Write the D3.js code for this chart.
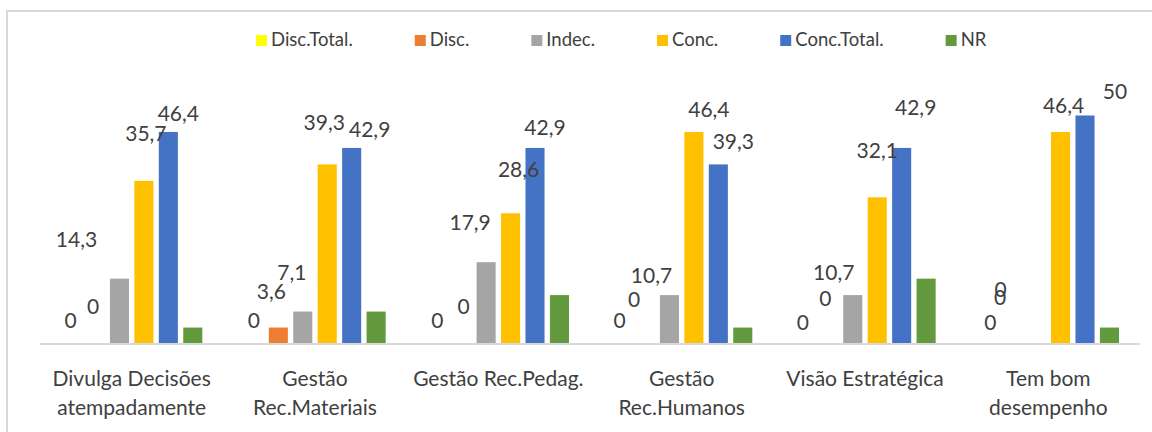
<!DOCTYPE html>
<html>
<head>
<meta charset="utf-8">
<script src="https://cdn.jsdelivr.net/npm/d3@7"></script>
<style>
  body { margin: 0; background: #fff; }
  svg { display: block; font-family: Lato, "Open Sans", sans-serif; }
</style>
</head>
<body>
<svg id="chart" width="1152" height="432"></svg>
<script>
// Chart data
var categories = [
    ["Divulga Decisões", "atempadamente"],
    ["Gestão", "Rec.Materiais"],
    ["Gestão Rec.Pedag."],
    ["Gestão", "Rec.Humanos"],
    ["Visão Estratégica"],
    ["Tem bom", "desempenho"]
];
var seriesNames = ["Disc.Total.", "Disc.", "Indec.", "Conc.", "Conc.Total.", "NR"];
var discTotal = [0, 0, 0, 0, 0, 0];
var disc = [0, 3.6, 0, 0, 0, 0];
var indec = [14.3, 7.1, 17.9, 10.7, 10.7, 0];
var conc = [35.7, 39.3, 28.6, 46.4, 32.1, 46.4];
var concTotal = [46.4, 42.9, 42.9, 39.3, 42.9, 50];
var nr = [3.6, 7.1, 10.7, 3.6, 14.3, 3.6];
var seriesValues = [discTotal, disc, indec, conc, concTotal, nr];

// Series colours and whether the data labels are shown
var seriesColors = ["#FFFF00", "#ED7D31", "#A5A5A5", "#FFC000", "#4472C4", "#629A3D"];
var showLabels = [true, true, true, true, true, false];

// The labels were dragged around by hand in the original, so keep the nudges (px) apart
var labelNudge = [
    [[0, -11], [-2, -25], [-43, -27], [2, -35], [10, -6]],
    [[0, -11], [-7, -24], [-11, -27], [-3, -29], [18, -6]],
    [[0, -11], [2, -25], [-16, -27], [8, -31], [10, -8]],
    [[-1, -11], [-11, -32], [-18, -7], [15, -10], [15, -10]],
    [[-1, -9], [-3, -33], [-19, -10], [0, -34], [14, -28]],
    [[3, -9], [-11, -42], [-36, -34], [3, -14], [30, -12]]
];

var svg = d3.select("#chart");
var width = 1152,
    height = 432;

var margin = {
    left: 40,
    right: 12,
    top: 115.5,
    bottom: 88
};

var textColor = "#404040";
var lineColor = "#D9D9D9";

// Chart frame
svg.append("rect")
    .attr("x", 7)
    .attr("y", 11)
    .attr("width", width + 20)
    .attr("height", height + 20)
    .style("fill", "none")
    .style("stroke", lineColor)
    .style("stroke-width", 2);

// Scales
var x0 = d3.scaleBand()
    .domain(d3.range(categories.length))
    .range([margin.left, width - margin.right])
    .paddingInner(0.2)
    .paddingOuter(0.1);

var x1 = d3.scaleBand()
    .domain(d3.range(seriesNames.length))
    .range([0, x0.bandwidth()])
    .paddingInner(0.22)
    .paddingOuter(0.11);

var yScale = d3.scaleLinear()
    .domain([0, 50])
    .range([height - margin.bottom, margin.top]);

// Flatten into one record per bar
var bars = [];
categories.forEach(function (c, ci) {
    seriesValues.forEach(function (vals, si) {
        bars.push({ cat: ci, series: si, value: vals[ci] });
    });
});

// Bars
svg.append("g").selectAll("rect")
    .data(bars)
    .enter()
    .append("rect")
    .attr("x", d => x0(d.cat) + x1(d.series))
    .attr("y", d => yScale(d.value))
    .attr("width", x1.bandwidth())
    .attr("height", d => yScale(0) - yScale(d.value))
    .style("fill", d => seriesColors[d.series]);

// Category axis line
svg.append("line")
    .attr("x1", margin.left)
    .attr("x2", width - margin.right)
    .attr("y1", yScale(0))
    .attr("y2", yScale(0))
    .style("stroke", lineColor)
    .style("stroke-width", 2);

// Data labels
svg.append("g").selectAll("text")
    .data(bars.filter(d => showLabels[d.series]))
    .enter()
    .append("text")
    .text(d => String(d.value).replace(".", ","))
    .attr("text-anchor", "middle")
    .attr("font-size", "21px")
    .attr("fill", textColor)
    .attr("x", d => x0(d.cat) + x1(d.series) + x1.bandwidth() / 2 + labelNudge[d.cat][d.series][0])
    .attr("y", d => yScale(d.value) - 5 + labelNudge[d.cat][d.series][1]);

// Category labels
var catLabels = svg.append("g").selectAll("text")
    .data(categories)
    .enter()
    .append("text")
    .attr("text-anchor", "middle")
    .attr("font-size", "21px")
    .attr("fill", textColor)
    .attr("x", (d, i) => x0(i) + x0.bandwidth() / 2)
    .attr("y", 386);

catLabels.selectAll("tspan")
    .data(d => d)
    .enter()
    .append("tspan")
    .attr("x", function () { return d3.select(this.parentNode).attr("x"); })
    .attr("dy", (d, i) => i === 0 ? 0 : 29)
    .text(d => d);

// Legend
var legend = svg.append("g");
var legendX = 256;
seriesNames.forEach(function (name, i) {
    legend.append("rect")
        .attr("x", legendX)
        .attr("y", 35)
        .attr("width", 11)
        .attr("height", 11)
        .style("fill", seriesColors[i]);
    var label = legend.append("text")
        .attr("x", legendX + 15)
        .attr("y", 46)
        .attr("font-size", "18.5px")
        .attr("fill", textColor)
        .text(name);
    legendX += 15 + label.node().getComputedTextLength() + 62;
});
</script>
</body>
</html>
